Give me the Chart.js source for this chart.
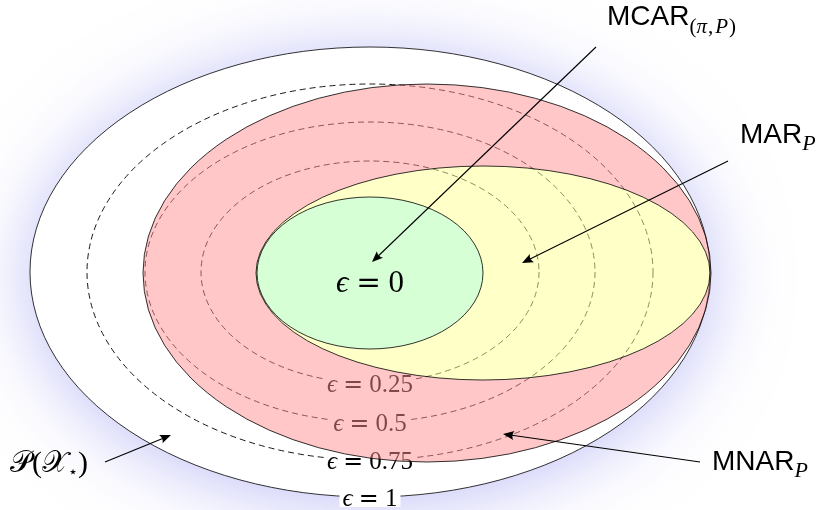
<!DOCTYPE html>
<html>
<head>
<meta charset="utf-8">
<script src="https://cdn.jsdelivr.net/npm/chart.js@4.4.1/dist/chart.umd.min.js"></script>
<style>
html,body{margin:0;padding:0;background:#fff;}
#wrap{width:827px;height:510px;}
</style>
</head>
<body>
<div id="wrap"><canvas id="c" width="827" height="510"></canvas></div>
<script>
// ---- data (diagram coordinates, x: 0..827, y: 0..510 downward) ----
const epsLevels = [0, 0.25, 0.5, 0.75, 1];
const epsValueText = ['0', '0.25', '0.5', '0.75', '1'];
const epsCx = [370, 370, 370, 370, 370];
const epsCy = [273, 272, 272, 272, 272];
const epsRx = [113, 169, 225, 283, 340];
const epsRy = [76, 111, 150, 188, 225];

const regionNames = ['MNAR', 'MAR'];
const regionCx = [427, 483];
const regionCy = [273, 273];
const regionRx = [284, 227];
const regionRy = [189, 107];

const arrowNames = ['MCAR', 'MAR', 'MNAR', 'P'];
const arrowFromX = [596, 728, 700, 105];
const arrowFromY = [47, 161, 462, 462];
const arrowToX = [372, 522, 503, 171];
const arrowToY = [262, 263, 434, 435];

const W = 827, H = 510;

function ell(ctx, xs, ys, cx, cy, rx, ry) {
  const X = xs.getPixelForValue(cx), Y = ys.getPixelForValue(cy);
  const RX = Math.abs(xs.getPixelForValue(cx + rx) - X);
  const RY = Math.abs(ys.getPixelForValue(cy + ry) - Y);
  ctx.moveTo(X + RX, Y);
  ctx.ellipse(X, Y, RX, RY, 0, 0, Math.PI * 2);
}

function segs(ctx, x, y, parts) {
  let cx = x;
  for (const p of parts) {
    ctx.font = p[1];
    ctx.fillText(p[0], cx, y + (p[2] || 0));
    cx += ctx.measureText(p[0]).width + (p[3] || 0);
  }
}

const SERIF = "'Liberation Serif','DejaVu Serif',serif";
const DSERIF = "'DejaVu Serif','Liberation Serif',serif";
const SANS = "'Liberation Sans','DejaVu Sans',sans-serif";

// TeX-like "ϵ = v" pieces and total width
function epsParts(ctx, size, v, gap) {
  const sp = gap * size;
  const parts = [
    ['\u03F5', 'italic ' + size + 'px ' + SERIF, 0, sp],
    ['=', (size * 0.95) + 'px ' + DSERIF, 0, sp],
    [v, size + 'px ' + SERIF, 0, 0]
  ];
  let w = 0;
  for (const p of parts) { ctx.font = p[1]; w += ctx.measureText(p[0]).width + p[3]; }
  return { parts, w };
}

const diagram = {
  id: 'diagram',
  afterDatasetsDraw(chart) {
    const ctx = chart.ctx, xs = chart.scales.x, ys = chart.scales.y;
    const px = v => xs.getPixelForValue(v), py = v => ys.getPixelForValue(v);
    ctx.save();
    // outer (eps = 1) with glow
    ctx.save();
    ctx.shadowColor = 'rgba(140,140,240,0.55)';
    ctx.shadowBlur = 75;
    ctx.shadowOffsetY = 6;
    ctx.beginPath(); ell(ctx, xs, ys, epsCx[4], epsCy[4], epsRx[4], epsRy[4]);
    ctx.fillStyle = '#fff'; ctx.fill();
    ctx.restore();
    ctx.beginPath(); ell(ctx, xs, ys, epsCx[4], epsCy[4], epsRx[4], epsRy[4]);
    ctx.strokeStyle = '#000'; ctx.lineWidth = 0.8; ctx.stroke();

    // dashed level ellipses
    ctx.save();
    ctx.setLineDash([6, 4]);
    ctx.lineWidth = 0.9;
    for (let i = 1; i <= 3; i++) {
      ctx.beginPath(); ell(ctx, xs, ys, epsCx[i], epsCy[i], epsRx[i], epsRy[i]);
      ctx.stroke();
    }
    ctx.restore();

    // level labels
    ctx.textAlign = 'left'; ctx.textBaseline = 'alphabetic';
    for (let i = 1; i <= 4; i++) {
      const X = px(epsCx[i]), Y = py(epsCy[i] + epsRy[i]);
      const e = epsParts(ctx, 25, epsValueText[i], 0.25);
      ctx.fillStyle = '#fff';
      ctx.fillRect(X - e.w / 2 - 3, Y - 10, e.w + 6, 20);
      ctx.fillStyle = '#000';
      segs(ctx, X - e.w / 2, Y + 8.5, e.parts);
    }

    // MNAR region (red) minus MAR region, semi-transparent
    ctx.beginPath();
    ell(ctx, xs, ys, regionCx[0], regionCy[0], regionRx[0], regionRy[0]);
    ell(ctx, xs, ys, regionCx[1], regionCy[1], regionRx[1], regionRy[1]);
    ctx.fillStyle = 'rgba(255,143,143,0.5)';
    ctx.fill('evenodd');
    // MAR region (yellow)
    ctx.beginPath();
    ell(ctx, xs, ys, regionCx[1], regionCy[1], regionRx[1], regionRy[1]);
    ctx.fillStyle = 'rgba(255,255,145,0.5)';
    ctx.fill();
    ctx.lineWidth = 0.8; ctx.strokeStyle = '#000';
    for (let i = 0; i < 2; i++) {
      ctx.beginPath(); ell(ctx, xs, ys, regionCx[i], regionCy[i], regionRx[i], regionRy[i]);
      ctx.stroke();
    }
    // MCAR (eps = 0) green
    ctx.beginPath(); ell(ctx, xs, ys, epsCx[0], epsCy[0], epsRx[0], epsRy[0]);
    ctx.fillStyle = '#d6ffd6'; ctx.fill(); ctx.stroke();

    // eps = 0 label
    ctx.fillStyle = '#000';
    {
      const e = epsParts(ctx, 31, epsValueText[0], 0.25);
      segs(ctx, px(epsCx[0]) - e.w / 2, py(epsCy[0]) + 19, e.parts);
    }

    // arrows
    ctx.lineWidth = 1.1;
    for (let i = 0; i < arrowNames.length; i++) {
      const x0 = px(arrowFromX[i]), y0 = py(arrowFromY[i]);
      const x1 = px(arrowToX[i]), y1 = py(arrowToY[i]);
      const a = Math.atan2(y1 - y0, x1 - x0), L = 11, hw = 4.5;
      const bx = x1 - L * Math.cos(a), by = y1 - L * Math.sin(a);
      ctx.beginPath(); ctx.moveTo(x0, y0); ctx.lineTo(bx + 2 * Math.cos(a), by + 2 * Math.sin(a)); ctx.stroke();
      ctx.beginPath();
      ctx.moveTo(x1, y1);
      ctx.lineTo(bx - hw * Math.sin(a), by + hw * Math.cos(a));
      ctx.quadraticCurveTo(bx + 3 * Math.cos(a), by + 3 * Math.sin(a), bx + hw * Math.sin(a), by - hw * Math.cos(a));
      ctx.closePath(); ctx.fill();
    }

    // region names
    const it = 'italic 21px ' + SERIF, up = '21px ' + SERIF;
    segs(ctx, 607, 25, [['MCAR', '28px ' + SANS], ['(', up, 8], ['\u03C0', it, 8, 1], [',', up, 8, 2], ['P', it, 8, 1], [')', up, 8]]);
    segs(ctx, 740, 143, [['MAR', '28px ' + SANS], ['P', 'italic 22px ' + SERIF, 7]]);
    segs(ctx, 712, 470, [['MNAR', '28px ' + SANS], ['P', 'italic 22px ' + SERIF, 7]]);
    segs(ctx, 10, 472, [['\uD835\uDCAB', '30px ' + SERIF], ['(', '30px ' + SERIF], ['\uD835\uDCB3', '30px ' + SERIF], ['\u22C6', '16px ' + SERIF, 5], [')', '30px ' + SERIF]]);
    ctx.restore();
  }
};

new Chart(document.getElementById('c'), {
  type: 'scatter',
  data: { datasets: [{ data: epsCx.map((x, i) => ({ x: x, y: epsCy[i] })), pointRadius: 0, showLine: false }] },
  options: {
    responsive: false,
    animation: false,
    devicePixelRatio: 1,
    layout: { padding: 0 },
    plugins: { legend: { display: false }, tooltip: { enabled: false } },
    scales: {
      x: { type: 'linear', min: 0, max: W, display: false },
      y: { type: 'linear', min: 0, max: H, reverse: true, display: false }
    }
  },
  plugins: [diagram]
});
</script>
</body>
</html>
